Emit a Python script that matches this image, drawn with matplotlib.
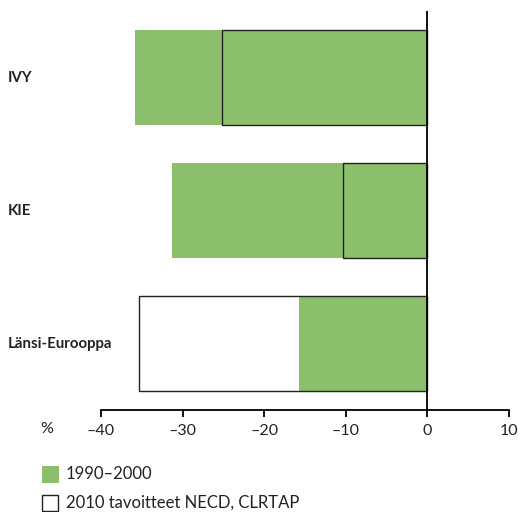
import matplotlib
matplotlib.use("Agg")
import matplotlib.pyplot as plt
from matplotlib.patches import Rectangle

plt.rcParams['font.family'] = ['Lato', 'DejaVu Sans']

categories = ["Länsi-Eurooppa", "KIE", "IVY"]
change_1990_2000 = [-15.7, -31.3, -35.8]
target_2010 = [-35.4, -10.4, -25.2]
xticks = [-40, -30, -20, -10, 0, 10]
xtick_labels = ["–40", "–30", "–20", "–10", "0", "10"]
legend_labels = ["1990–2000", "2010 tavoitteet NECD, CLRTAP"]

green = "#8bbf6b"

fig = plt.figure(figsize=(5.18, 5.12), dpi=100)
ax = fig.add_axes([0.195, 0.1992, 0.7876, 0.7793])

pos = list(range(len(categories)))
h = 0.72

# white fill of the target bars underneath
ax.barh(pos, target_2010, height=h, color="white", edgecolor="none", zorder=1)
# observed change 1990-2000
ax.barh(pos, change_1990_2000, height=h, color=green, edgecolor="none", zorder=2)
# outline of the target bars on top
ax.barh(pos, target_2010, height=h, facecolor="none", edgecolor="#222222",
        linewidth=1.0, zorder=3)

ax.axvline(0, color="black", linewidth=1.3, zorder=4)

ax.set_xlim(-40, 10)
ax.set_ylim(-0.5, 2.5)
ax.set_xticks(xticks)
ax.set_xticklabels(xtick_labels, fontsize=11.5, color="#222222")
ax.set_yticks([])
for s in ["left", "right", "top"]:
    ax.spines[s].set_visible(False)
ax.spines["bottom"].set_linewidth(1.3)
ax.tick_params(axis="x", length=5, width=1.3, pad=5)

for p, name in zip(pos, categories):
    y_fig = ax.transData.transform((0, p))[1]
    fig.text(8 / 518, y_fig / 512, name, ha="left", va="center",
             fontsize=10.8, fontweight="bold", color="#222222")

fig.text(47 / 518, 1 - 429 / 512, "%", ha="center", va="center",
         fontsize=11.5, color="#222222")

# legend
fig.patches.append(Rectangle((42 / 518, 1 - 483 / 512), 17 / 518, 17 / 512,
                             transform=fig.transFigure, facecolor=green,
                             edgecolor="none"))
fig.patches.append(Rectangle((42 / 518, 1 - 511 / 512), 16 / 518, 16 / 512,
                             transform=fig.transFigure, facecolor="white",
                             edgecolor="#222222", linewidth=1.0))
fig.text(66 / 518, 1 - 474 / 512, legend_labels[0], ha="left", va="center",
         fontsize=12, color="#222222")
fig.text(66 / 518, 1 - 503 / 512, legend_labels[1], ha="left", va="center",
         fontsize=12, color="#222222")

fig.savefig("out.png", dpi=100)
